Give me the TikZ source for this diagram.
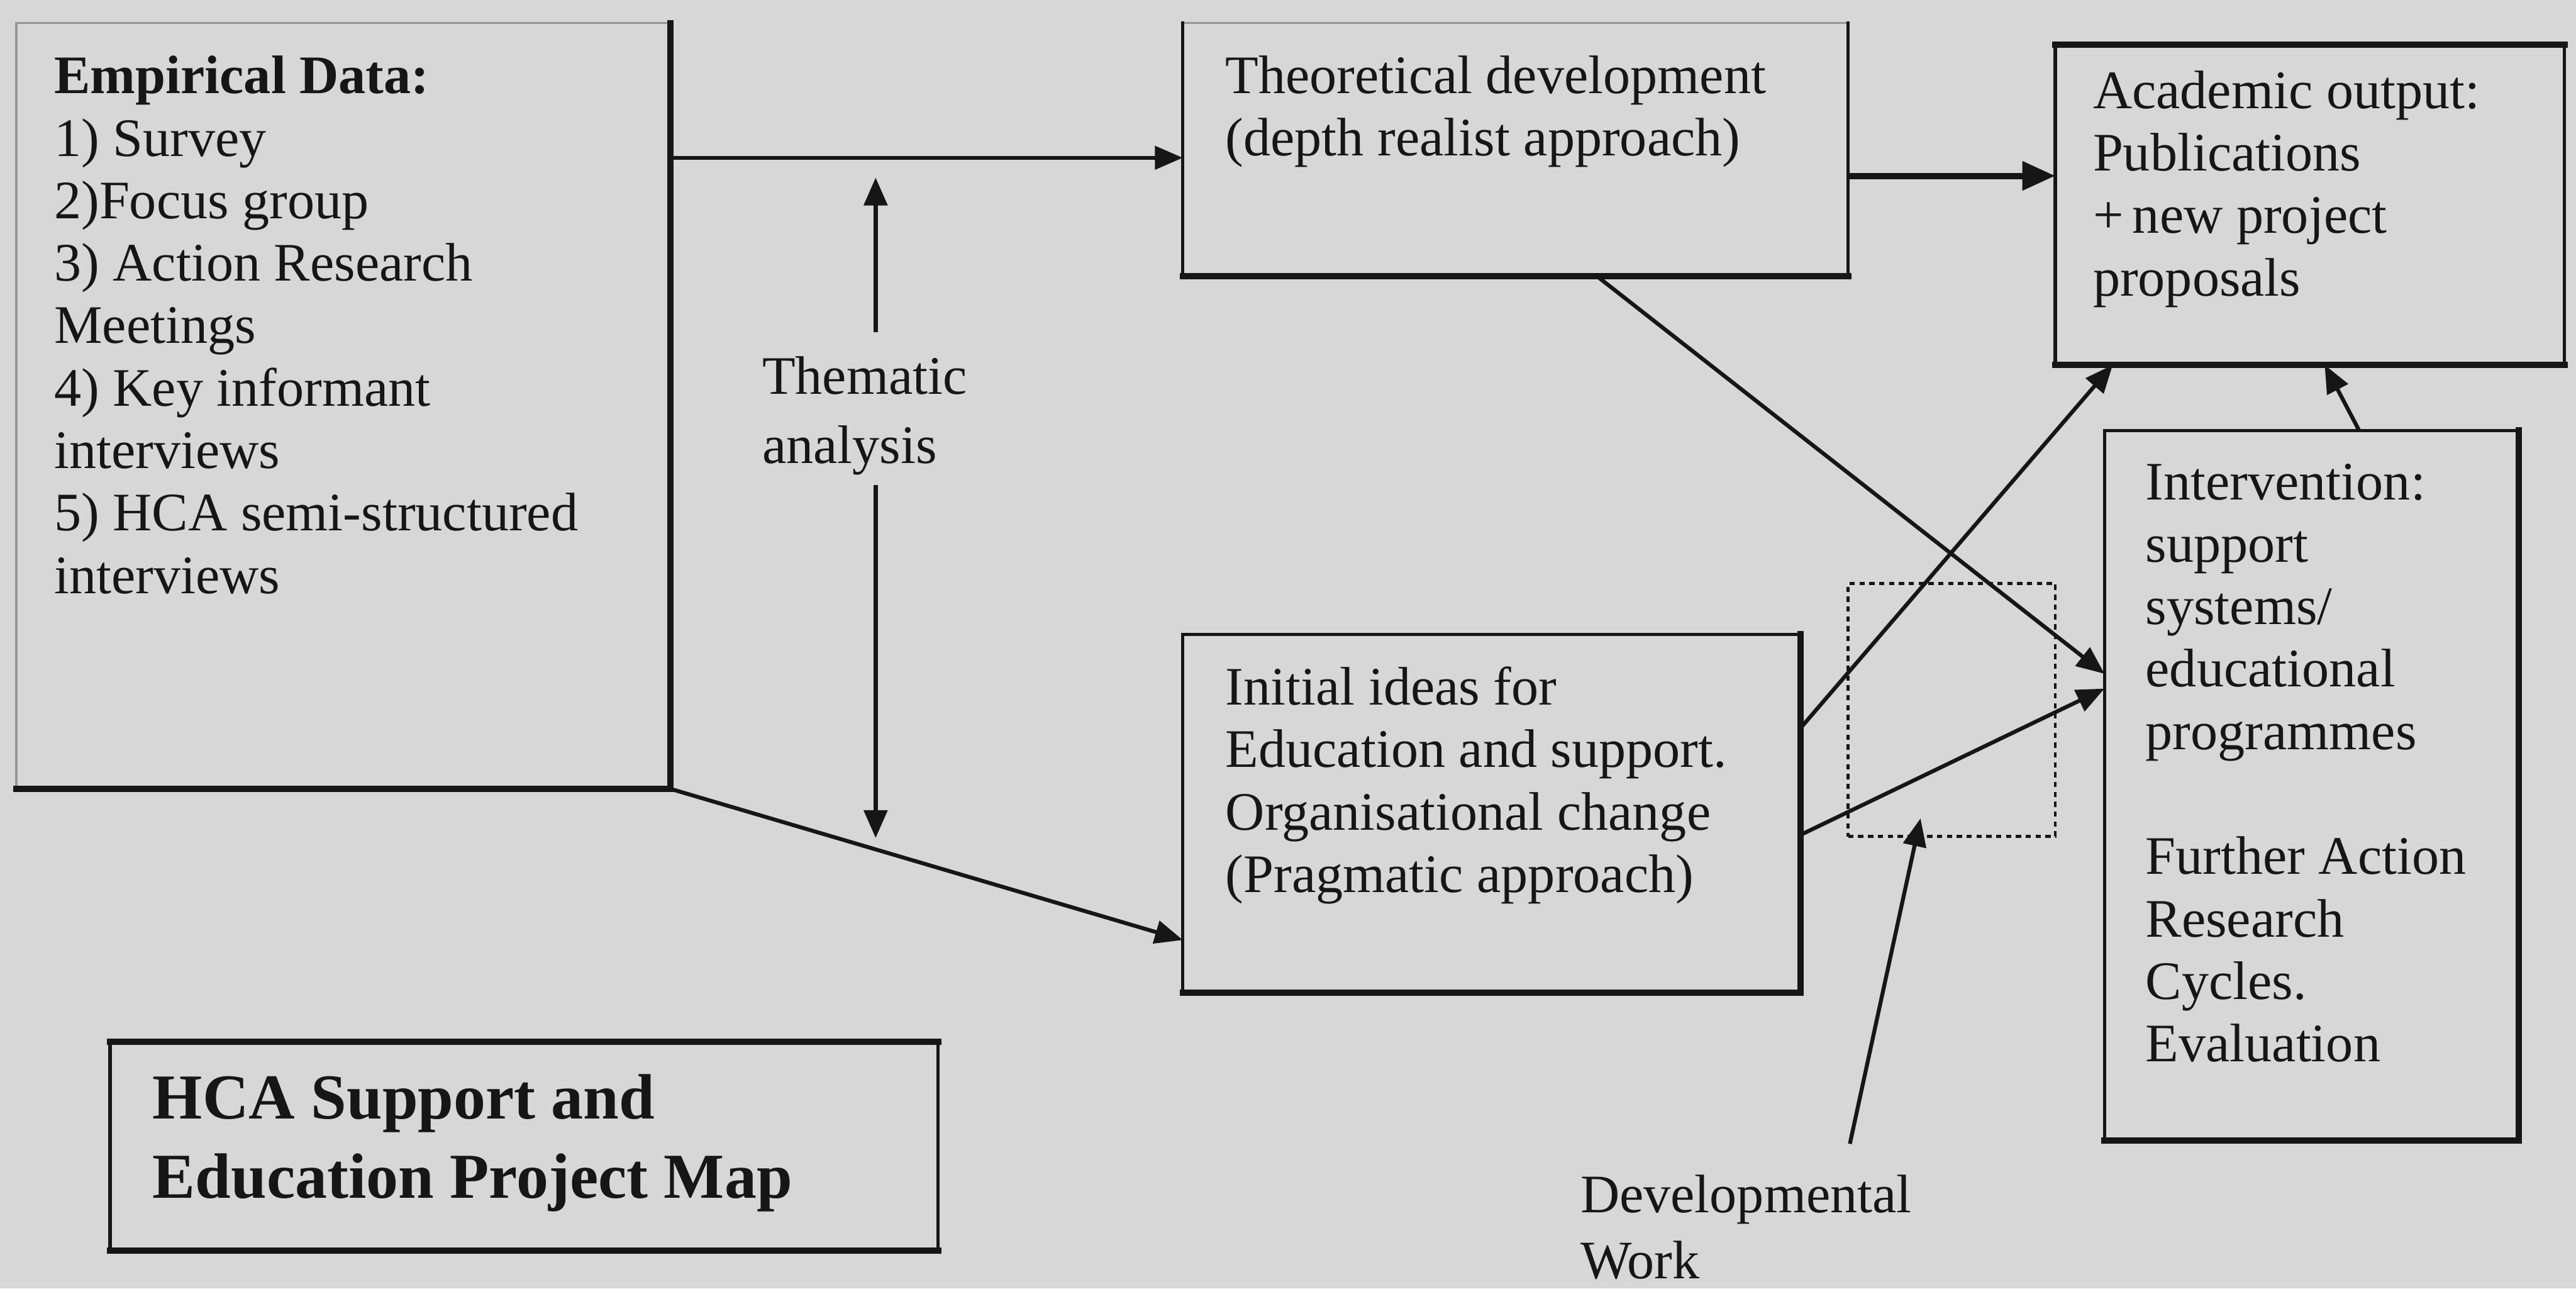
\documentclass[tikz,border=0pt]{standalone}
\usepackage{fontspec}
\setmainfont{Liberation Serif}
\usetikzlibrary{arrows.meta}
\definecolor{paper}{RGB}{215,215,215}
\definecolor{ink}{RGB}{22,22,22}

\begin{document}
\begin{tikzpicture}[x=0.5pt,y=-0.5pt,
  panel/.style={rectangle, inner sep=0pt, outer sep=0pt, anchor=north west},
  rim/.style={draw=ink, line width=1pt, line cap=rect},
  rimheavy/.style={draw=ink, line width=1.9pt, line cap=rect},
  rimfaint/.style={draw=ink!45, line width=0.7pt},
  bodytext/.style={anchor=north west, inner sep=0pt, outer sep=0pt, align=left,
    text=ink, font=\fontsize{16.5}{19}\selectfont},
  link/.style={draw=ink, line width=1.2pt, -{Triangle[length=8.5pt,width=7pt]}},
  boldlink/.style={draw=ink, line width=1.9pt, -{Triangle[length=10pt,width=8.5pt]}},
  ]

% page
\fill[paper] (0,0) rectangle (1568,784);
\useasboundingbox (0,0) rectangle (1568,784);

% ---------- boxes ----------
\node[panel, minimum width=199pt,   minimum height=233pt]  (emp)    at (10,14)   {};
\node[panel, minimum width=202.5pt, minimum height=77pt]   (theo)   at (720,14)  {};
\node[panel, minimum width=155pt,   minimum height=97.5pt] (acad)   at (1251,27) {};
\node[panel, minimum width=126pt,   minimum height=216pt]  (interv) at (1281,262){};
\node[panel, minimum width=188pt,   minimum height=109pt]  (init)   at (720,386) {};
\node[panel, minimum width=252pt,   minimum height=63.5pt] (title)  at (67,634)  {};
\node[panel, minimum width=63pt,    minimum height=77pt,
      draw=ink, line width=0.9pt, dash pattern=on 1.6pt off 1.4pt] (dev) at (1125,355) {};

% box outlines: thin left/top, heavier right/bottom
\draw[rimfaint] (emp.south west) -- (emp.north west) -- (emp.north east);
\draw[rimheavy] (emp.north east) -- (emp.south east) -- (emp.south west);

\draw[rimfaint] (theo.north west) -- (theo.north east);
\draw[rim] (theo.south west) -- (theo.north west);
\draw[rim] (theo.north east) -- (theo.south east);
\draw[rimheavy] (theo.south west) -- (theo.south east);

\draw[rim] (acad.north west) -- (acad.south west);
\draw[rim] (acad.north east) -- (acad.south east);
\draw[rimheavy] (acad.north west) -- (acad.north east);
\draw[rimheavy] (acad.south west) -- (acad.south east);

\draw[rim] (interv.south west) -- (interv.north west) -- (interv.north east);
\draw[rimheavy] (interv.north east) -- (interv.south east) -- (interv.south west);

\draw[rim] (init.south west) -- (init.north west) -- (init.north east);
\draw[rimheavy] (init.north east) -- (init.south east) -- (init.south west);

\draw[rim] (title.north west) -- (title.south west);
\draw[rim] (title.north east) -- (title.south east);
\draw[rimheavy] (title.north west) -- (title.north east);
\draw[rimheavy] (title.south west) -- (title.south east);

% ---------- texts (a leading strut fixes the first baseline) ----------
\node[bodytext] (empText) at (33,30.4)
  {\strut\textbf{Empirical Data:}\\1) Survey\\2)Focus group\\3) Action Research\\Meetings\\4) Key informant\\interviews\\5) HCA semi-structured\\interviews};
\node[bodytext] (theoText) at (746,30.1)
  {\strut Theoretical development\\(depth realist approach)};
\node[bodytext] (acadText) at (1274,39.4)
  {\strut Academic output:\\Publications\\+\,new project\\proposals};
\node[bodytext] (intervText) at (1306,277.4)
  {\strut Intervention:\\support\\systems/\\educational\\programmes\\[19pt]Further Action\\Research\\Cycles.\\Evaluation};
\node[bodytext] (initText) at (746,402.4)
  {\strut Initial ideas for\\Education and support.\\Organisational change\\(Pragmatic approach)};
\node[bodytext, font=\bfseries\fontsize{19.5}{24}\selectfont] (titleText) at (93,647.4)
  {\strut HCA Support and\\Education Project Map};
\node[bodytext, font=\fontsize{16.5}{21}\selectfont] (thema) at (464,210.6)
  {\strut Thematic\\analysis};
\node[bodytext, font=\fontsize{16.5}{20}\selectfont] (devText) at (962,710)
  {\strut Developmental\\Work};

% ---------- connectors ----------
\coordinate (theoIn) at ([yshift=-2.5pt]theo.west);
\draw[link] (emp.east |- theoIn) -- (theoIn);

\coordinate (theoOut) at ([yshift=-8pt]theo.east);
\draw[boldlink] (theoOut) -- (acad.west |- theoOut);

\draw[link] (emp.south east) -- ([yshift=-38.5pt]init.west);

% double arrow of the thematic analysis, split around its label
\coordinate (thTop)  at (533,108);
\coordinate (thUp)   at (533,202);
\coordinate (thDown) at (533,295);
\coordinate (thBot)  at (533,510);
\draw[link, line width=1.4pt] (thUp) -- (thTop);
\draw[link, line width=1.4pt] (thDown) -- (thBot);

\draw[link] ([xshift=24.75pt]theo.south) -- ([yshift=34pt]interv.west);
\draw[link] ([yshift=26pt]init.east) -- ([xshift=-60pt]acad.south);
\draw[link] ([yshift=-6.5pt]init.east) -- ([yshift=29.5pt]interv.west);
\draw[link] ([xshift=14.5pt]interv.north) -- ([xshift=4.5pt]acad.south);

% pointer from the developmental work label into the dotted area
\coordinate (devFrom) at (1126,696);
\draw[link] (devFrom) -- ([xshift=-9.5pt,yshift=5.5pt]dev.south);

\end{tikzpicture}
\end{document}
